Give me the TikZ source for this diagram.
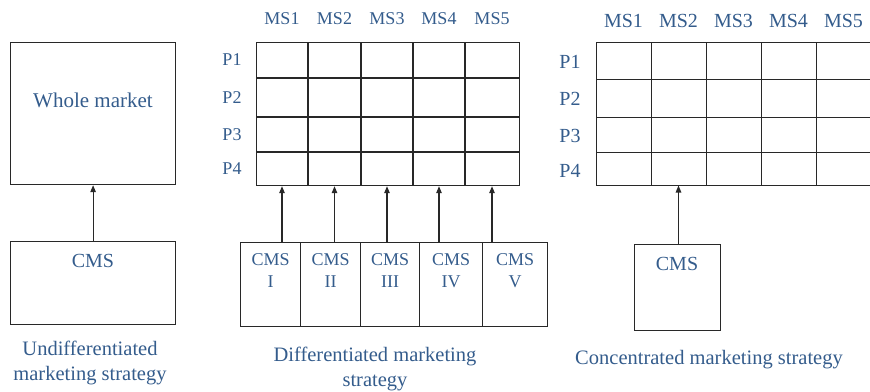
\documentclass[tikz,border=0pt]{standalone}
\usepackage{fontspec}
\setmainfont{Liberation Serif}
\usetikzlibrary{arrows.meta}
\definecolor{txtblue}{RGB}{52,92,140}
\definecolor{linegray}{RGB}{40,40,40}
\begin{document}
\begin{tikzpicture}[x=1pt,y=-1pt,
  box/.style={draw=linegray, line width=1.2pt, inner sep=0pt, anchor=north west},
  lbl/.style={text=txtblue, inner sep=0pt},
  fS/.style={font=\fontsize{18}{22}\selectfont},
  fM/.style={font=\fontsize{20}{24}\selectfont},
  fL/.style={font=\fontsize{21}{25}\selectfont},
  capt/.style={font=\fontsize{20.5}{25}\selectfont, align=center},
  gridline/.style={draw=linegray, line width=1.2pt},
  arr/.style={draw=linegray, line width=1.2pt, -{Triangle[length=7pt,width=5.5pt]}}]
\useasboundingbox (0,0) rectangle (870,391);

% ---------- Undifferentiated marketing strategy ----------
\node[box, minimum width=165pt, minimum height=142pt] (whole) at (10,42) {};
\node[lbl, fL] (wholetxt) at (93,100) {Whole market};
\node[box, minimum width=165pt, minimum height=83pt] (cmsU) at (10,241) {};
\node[lbl, fM] (cmsUtxt) at (93,261) {CMS};
\draw[arr] (cmsU.north) -- (whole.south);
\node[lbl, capt] (capU) at (90,363) {Undifferentiated\\marketing strategy};

% ---------- Differentiated marketing strategy ----------
\node[box, minimum width=263pt, minimum height=143pt] (gridD) at (256,42) {};
\foreach \x in {308,361,413,465} \draw[gridline] (\x,42) -- (\x,185);
\foreach \y in {78,117,152} \draw[gridline] (256,\y) -- (519,\y);
\foreach \i/\x in {1/282,2/334.5,3/387,4/439,5/492}
  \node[lbl, fS] (msD\i) at (\x,19) {MS\i};
\foreach \i/\y in {1/60,2/98,3/135,4/169}
  \node[lbl, fS] (pD\i) at (232,\y) {P\i};
\foreach \i/\xa/\w/\rom in {1/240/60/I,2/300/60/II,3/360/59/III,4/419/63/IV,5/482/65/V}{
  \node[box, minimum width=\w pt, minimum height=84pt] (cmsD\i) at (\xa,242) {};
  \node[lbl, fS, align=center] (cmsDt\i) at ([yshift=-29pt]cmsD\i.north) {CMS\\\rom};
  \draw[arr] (msD\i |- cmsD\i.north) -- (msD\i |- gridD.south);
}
\node[lbl, capt] (capD) at (375,369) {Differentiated marketing\\strategy};

% ---------- Concentrated marketing strategy ----------
\begin{scope}
  \clip (0,0) rectangle (870,391);
  \draw[gridline] (880,42.5) -- (596.5,42.5) -- (596.5,185.5) -- (880,185.5);
  \foreach \x in {651.5,706.5,761.5,816.5} \draw[gridline] (\x,42.5) -- (\x,185.5);
  \foreach \y in {79.5,117.5,152.5} \draw[gridline] (596.5,\y) -- (880,\y);
\end{scope}
\coordinate (gridCbot) at (596,185.5);
\foreach \i/\x in {1/623.5,2/678.5,3/733.5,4/788.5,5/843.5}
  \node[lbl, fM] (msC\i) at (\x,21) {MS\i};
\foreach \i/\y in {1/62,2/99,3/136,4/171}
  \node[lbl, fM] (pC\i) at (570,\y) {P\i};
\node[box, minimum width=86pt, minimum height=86pt] (cmsC) at (634,244) {};
\node[lbl, fM] (cmsCtxt) at (677,264) {CMS};
\draw[arr] (msC2 |- cmsC.north) -- (msC2 |- gridCbot);
\node[lbl, capt] (capC) at (709,360) {Concentrated marketing strategy};
\end{tikzpicture}
\end{document}
